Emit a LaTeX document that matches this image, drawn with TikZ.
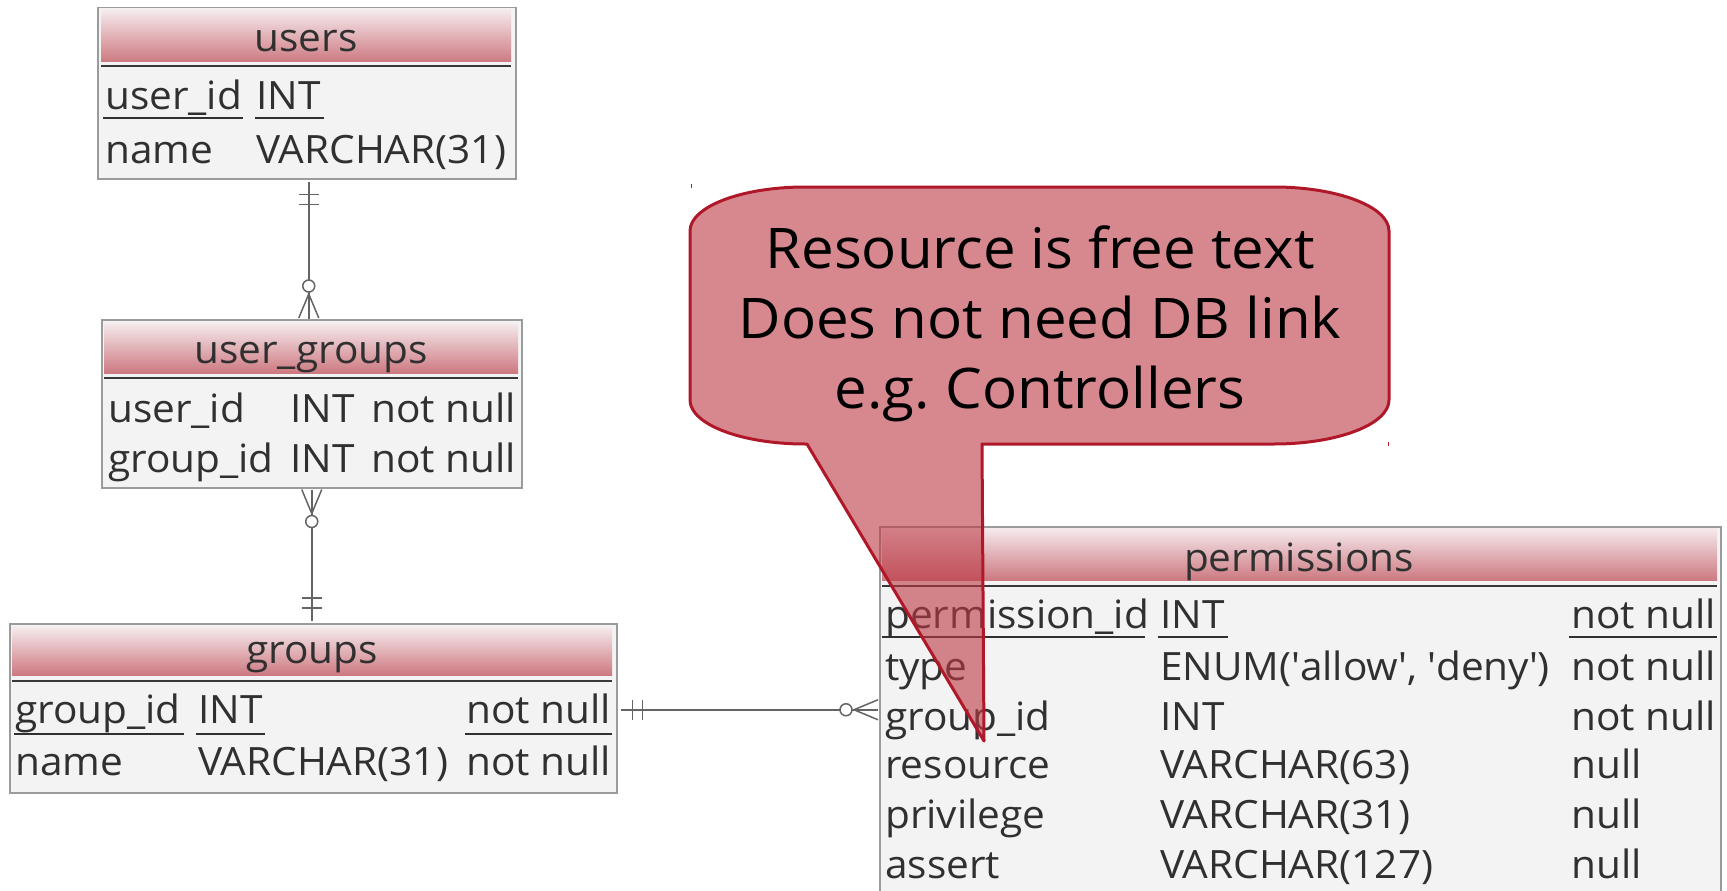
\documentclass[tikz,border=0pt]{standalone}
\usepackage{fontspec}
\setmainfont[FakeStretch=1.04]{Open Sans}
\frenchspacing
\definecolor{hdtop}{RGB}{245,234,236}
\definecolor{hdbot}{RGB}{205,121,129}
\definecolor{tblfill}{RGB}{243,243,243}
\definecolor{tbledge}{RGB}{155,155,155}
\definecolor{txtc}{RGB}{48,48,48}
\definecolor{relc}{RGB}{100,100,100}
\definecolor{notefill}{RGB}{188,57,68}
\definecolor{noteedge}{RGB}{176,24,42}

% ER end markers: #1 = attachment point on the table, #2 = direction away from the table
\newcommand\markone[2]{\begin{scope}[shift={(#1)},rotate=#2]
  \draw[rel] (15,-10)--(15,10) (25,-10)--(25,10);\end{scope}}
\newcommand\markmany[2]{\begin{scope}[shift={(#1)},rotate=#2]
  \draw[rel] (25,0)--(1,10) (25,0)--(1,-10);
  \draw[rel,fill=white] (33,0) circle[radius=6];\end{scope}}

\begin{document}
\begin{tikzpicture}[x=1pt,y=-1pt,
  tablebox/.style={draw=tbledge, fill=tblfill, line width=1.5pt, inner sep=0pt, anchor=north west},
  cell/.style={anchor=base west, inner sep=0pt, text=txtc, font=\fontsize{39}{46}\selectfont},
  title/.style={anchor=base, inner sep=0pt, text=txtc, font=\fontsize{39}{46}\selectfont},
  sepline/.style={draw=black!78, line width=2pt},
  keyline/.style={draw=txtc, line width=1.5pt},
  rel/.style={draw=relc, line width=1.5pt},
  notetext/.style={anchor=base, inner sep=0pt, text=black, font=\fontsize{56}{70}\selectfont}]

\useasboundingbox (0,0) rectangle (1727,891);

% ---------- users ----------
\node[tablebox, minimum width=418pt, minimum height=171pt] (users) at (97,7) {};
\shade[top color=hdtop, bottom color=hdbot] (101,10) rectangle (511,62);
\draw[sepline] (101,66) -- (511,66);
\node[title] (usersT) at (306,52) {users};
\node[cell] (u11) at (105,110) {user\_id};
\node[cell] (u12) at (256,110) {INT};
\draw[keyline] (103,118) -- (243,118) (255,118) -- (324,118);
\node[cell] (u21) at (105,163) {name};
\node[cell] (u22) at (256,163) {VARCHAR(31)};

% ---------- user_groups ----------
\node[tablebox, minimum width=420pt, minimum height=168pt] (ugroups) at (101,319) {};
\shade[top color=hdtop, bottom color=hdbot] (104,323) rectangle (518,373);
\draw[sepline] (104,378) -- (518,378);
\node[title] (ugroupsT) at (311,363) {user\_groups};
\node[cell] (g11) at (108,422) {user\_id};
\node[cell] (g12) at (290,422) {INT};
\node[cell] (g13) at (371,422) {not null};
\node[cell] (g21) at (108,472) {group\_id};
\node[cell] (g22) at (290,472) {INT};
\node[cell] (g23) at (371,472) {not null};

% ---------- groups ----------
\node[tablebox, minimum width=607pt, minimum height=169pt] (groups) at (9,623) {};
\shade[top color=hdtop, bottom color=hdbot] (12,627) rectangle (612,675);
\draw[sepline] (12,681) -- (612,681);
\node[title] (groupsT) at (312,663) {groups};
\node[cell] (r11) at (15,723) {group\_id};
\node[cell] (r12) at (198,723) {INT};
\node[cell] (r13) at (466,723) {not null};
\draw[keyline] (14,734) -- (184,734) (196,734) -- (265,734) (465,734) -- (612,734);
\node[cell] (r21) at (15,775) {name};
\node[cell] (r22) at (198,775) {VARCHAR(31)};
\node[cell] (r23) at (466,775) {not null};

% ---------- permissions ----------
\node[tablebox, minimum width=841pt, minimum height=366pt] (perms) at (879,526) {};
\shade[top color=hdtop, bottom color=hdbot] (882,528) rectangle (1717,580);
\draw[sepline] (882,586) -- (1717,586);
\node[title] (permsT) at (1299,571) {permissions};
\node[cell] (p11) at (885,628) {permission\_id};
\node[cell] (p12) at (1160,628) {INT};
\node[cell] (p13) at (1571,628) {not null};
\draw[keyline] (882,637) -- (1145,637) (1158,637) -- (1228,637) (1569,637) -- (1717,637);
\node[cell] (p21) at (885,680) {type};
\node[cell] (p22) at (1160,680) {ENUM(\textquotesingle allow\textquotesingle, \textquotesingle deny\textquotesingle)};
\node[cell] (p23) at (1571,680) {not null};
\node[cell] (p31) at (885,730) {group\_id};
\node[cell] (p32) at (1160,730) {INT};
\node[cell] (p33) at (1571,730) {not null};
\node[cell] (p41) at (885,778) {resource};
\node[cell] (p42) at (1160,778) {VARCHAR(63)};
\node[cell] (p43) at (1571,778) {null};
\node[cell] (p51) at (885,828) {privilege};
\node[cell] (p52) at (1160,828) {VARCHAR(31)};
\node[cell] (p53) at (1571,828) {null};
\node[cell] (p61) at (885,878) {assert};
\node[cell] (p62) at (1160,878) {VARCHAR(127)};
\node[cell] (p63) at (1571,878) {null};

% ---------- relationships ----------
\draw[rel] ([xshift=2pt,yshift=-2pt]users.south) -- ([xshift=-3pt]ugroups.north);
\markone{[xshift=2pt]users.south}{-90}
\markmany{[xshift=-3pt]ugroups.north}{90}

\draw[rel] ([yshift=-1pt]ugroups.south) -- ([xshift=-1.5pt,yshift=2pt]groups.north);
\markmany{ugroups.south}{-90}
\markone{[xshift=-1.5pt]groups.north}{90}

\draw[rel] ([xshift=3pt,yshift=-1.5pt]groups.east) -- ([xshift=-1pt]perms.west);
\markone{[yshift=-1.5pt]groups.east}{0}
\markmany{perms.west}{180}

% ---------- note ----------
\path[draw=noteedge, line width=3pt, fill=notefill, fill opacity=0.6, line join=round]
  (982,444) -- (1274,444) arc[start angle=90, end angle=0, x radius=115, y radius=44]
  -- (1389,231) arc[start angle=0, end angle=-90, x radius=115, y radius=44]
  -- (805,187) arc[start angle=-90, end angle=-180, x radius=115, y radius=44]
  -- (690,400) arc[start angle=180, end angle=90, x radius=115, y radius=44]
  -- (807,444) -- (984,741) -- cycle;
\draw[noteedge, line width=1pt] (691,184) -- (691,188) (1388,442) -- (1388,446);
\node[notetext] (note1) at (1040,268) {Resource is free text};
\node[notetext] (note2) at (1040,338) {Does not need DB link};
\node[notetext] (note3) at (1040,408) {e.g. Controllers};
\end{tikzpicture}
\end{document}
